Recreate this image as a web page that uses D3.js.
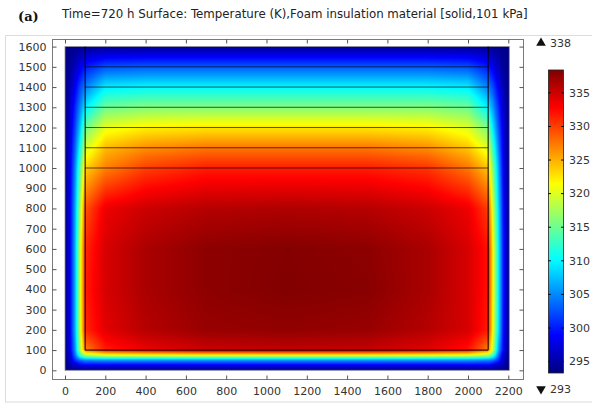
<!DOCTYPE html>
<html lang="en">
<head>
<meta charset="UTF-8">
<title>Temperature surface</title>
<style>
  body { margin: 0; background: #fff; }
  svg text { font-family: "DejaVu Sans", sans-serif; fill: #333; }
</style>
</head>
<body>
<svg id="container" width="592" height="405"></svg>

<script src="https://cdn.jsdelivr.net/npm/d3@7/dist/d3.min.js"></script>
<script>

// mesh nodes (mm) and temperatures (K), rows go bottom -> top
const xNodes = [0, 25, 50, 75, 100, 200, 400, 700, 1100, 1500, 1800, 2000, 2100, 2125, 2150, 2175, 2205]
const yNodes = [0, 25, 50, 75, 100, 200, 400, 600, 800, 1000, 1100, 1200, 1300, 1400, 1500, 1600]
const tempGrid = [
    [293.3, 293.5, 293.5, 293.5, 293.5, 293.5, 293.5, 293.5, 293.5, 293.5, 293.5, 293.5, 293.5, 293.5, 293.5, 293.5, 293.3],
    [293.3, 295.5, 296.5, 297.5, 298.5, 298.5, 298.5, 298.5, 298.5, 298.5, 298.5, 298.5, 298.5, 297.5, 296.5, 295.5, 293.3],
    [293.3, 296.5, 301, 304, 305, 305.5, 305.5, 305.5, 305.5, 305.5, 305.5, 305.5, 305, 304, 301, 296.5, 293.3],
    [293.3, 297, 304, 313, 318, 320.5, 321, 321.5, 321.5, 321.5, 321, 320.5, 318, 313, 304, 297, 293.3],
    [293.3, 298, 305.5, 318, 327, 331.5, 333.5, 335, 335.5, 335.3, 334, 332, 327, 318.5, 306.5, 299, 293.3],
    [293.3, 298.5, 307, 320, 331, 334, 336, 337.3, 337.6, 337.3, 336, 334.5, 331.5, 320.5, 309.5, 299.5, 293.3],
    [293.3, 298.5, 307, 320, 331.5, 334.5, 336.5, 337.8, 338.3, 338, 336.5, 334.5, 332, 321, 310, 300, 293.3],
    [293.3, 298.5, 307, 320, 331, 334.5, 336.5, 337.8, 338.2, 337.8, 336.5, 334.5, 332, 321, 310, 300, 293.3],
    [293.3, 298.5, 306.5, 318, 329, 333.5, 335, 336, 336.3, 336, 335, 333.5, 330, 319, 309, 299.5, 293.3],
    [293.3, 298, 305, 314.5, 323.5, 327, 330, 331.5, 331.5, 331.5, 330.5, 327.5, 324, 315.5, 307, 298.5, 293.3],
    [293.3, 297.5, 303.5, 311, 319.5, 324.5, 326.5, 327.5, 327.5, 327.5, 326.5, 324, 320, 312.5, 305, 298, 293.3],
    [293.3, 297, 302, 308, 315, 320.5, 322, 322.5, 322.5, 322.5, 322, 320, 315.5, 309, 303, 297.5, 293.3],
    [293.3, 296.5, 300.5, 305, 309.5, 315, 316, 316, 316, 316, 316, 315, 309.5, 305.5, 301, 296.5, 293.3],
    [293.3, 295.5, 298.5, 302, 304.5, 309.5, 310, 310, 310, 310, 310, 309.5, 304.5, 302, 298.5, 295.5, 293.3],
    [293.3, 294.5, 296, 298, 300, 302.5, 303, 303, 303, 303, 303, 302.5, 300, 298, 296, 294.5, 293.3],
    [293.3, 293.8, 294, 294, 294.2, 294.3, 294.3, 294.3, 294.3, 294.3, 294.3, 294.3, 294.2, 294, 294, 293.8, 293.3]
]

// geometry lines: inner box and layer boundaries
const innerBox = [100, 2100, 100, 1600]
const layerLines = [1000, 1100, 1200, 1300, 1400, 1500]

const xTicks = d3.range(0, 2201, 200)
const yTicks = d3.range(0, 1601, 100)
const cbTicks = [295, 300, 305, 310, 315, 320, 325, 330, 335]
const tMin = 293.3, tMax = 338.4
const domainW = 2205, domainH = 1600

const titleText = "Time=720 h Surface: Temperature (K),Foam insulation material [solid,101 kPa]"

let svg = d3.select("#container")

let x = d3.scaleLinear().domain([0, 2200]).range([65, 508.3])
let y = d3.scaleLinear().domain([0, 1600]).range([370.3, 46.6])

// jet-like rainbow
let jet = [[0, "#000080"], [0.125, "#0000ff"], [0.375, "#00ffff"], [0.625, "#ffff00"], [0.875, "#ff0000"], [1, "#800000"]]
let color = d3.scaleLinear()
    .domain(jet.map(d => tMin + d[0] * (tMax - tMin)))
    .range(jet.map(d => d[1]))
    .clamp(true)

function sampleT(xv, yv) {
    let i = Math.max(0, Math.min(d3.bisectRight(xNodes, xv) - 1, xNodes.length - 2))
    let j = Math.max(0, Math.min(d3.bisectRight(yNodes, yv) - 1, yNodes.length - 2))
    let tx = (xv - xNodes[i]) / (xNodes[i + 1] - xNodes[i])
    let ty = (yv - yNodes[j]) / (yNodes[j + 1] - yNodes[j])
    tx = Math.max(0, Math.min(1, tx)); ty = Math.max(0, Math.min(1, ty))
    let a = tempGrid[j][i], b = tempGrid[j][i + 1]
    let c = tempGrid[j + 1][i], d = tempGrid[j + 1][i + 1]
    return (a * (1 - tx) + b * tx) * (1 - ty) + (c * (1 - tx) + d * tx) * ty
}

// outer light panel
svg.append("rect")
    .attr("x", 5.5).attr("y", 35.5).attr("width", 620).attr("height", 366.5)
    .attr("fill", "none").attr("stroke", "#dcdcdc")

// titles
svg.append("text")
    .attr("x", 18).attr("y", 21)
    .style("font-family", "'DejaVu Serif', serif").style("font-weight", "bold")
    .style("font-size", "13px").style("fill", "#111")
    .text("(a)")

svg.append("text")
    .attr("x", 62).attr("y", 18)
    .style("font-size", "11.8px").style("fill", "#222")
    .text(titleText)

// surface image
let px0 = x(0), px1 = x(domainW), pyTop = y(domainH), pyBot = y(0)
let W = Math.round(px1 - px0), H = Math.round(pyBot - pyTop)
let canvas = document.createElement("canvas")
canvas.width = W; canvas.height = H
let ctx = canvas.getContext("2d")
let img = ctx.createImageData(W, H)
for (let r = 0; r < H; r++) {
    let yv = y.invert(pyTop + (r + 0.5) * (pyBot - pyTop) / H)
    for (let c = 0; c < W; c++) {
        let xv = x.invert(px0 + (c + 0.5) * (px1 - px0) / W)
        let col = d3.rgb(color(sampleT(xv, yv)))
        let k = (r * W + c) * 4
        img.data[k] = col.r; img.data[k + 1] = col.g; img.data[k + 2] = col.b; img.data[k + 3] = 255
    }
}
ctx.putImageData(img, 0, 0)

svg.append("image")
    .attr("x", px0).attr("y", pyTop).attr("width", px1 - px0).attr("height", pyBot - pyTop)
    .attr("preserveAspectRatio", "none")
    .attr("href", canvas.toDataURL())

svg.append("rect")
    .attr("x", px0).attr("y", pyTop).attr("width", px1 - px0).attr("height", pyBot - pyTop)
    .attr("fill", "none").attr("stroke", "#8c8c9c").attr("stroke-width", 0.8)

// layer lines
svg.selectAll("line.layer")
    .data(layerLines)
    .enter().append("line")
    .attr("class", "layer")
    .attr("x1", x(innerBox[0])).attr("x2", x(innerBox[1]))
    .attr("y1", d => y(d)).attr("y2", d => y(d))
    .attr("stroke", "#000").attr("stroke-opacity", 0.65).attr("stroke-width", 1)

svg.append("path")
    .attr("d", d3.line()([[x(innerBox[0]), y(innerBox[3])], [x(innerBox[0]), y(innerBox[2])],
        [x(innerBox[1]), y(innerBox[2])], [x(innerBox[1]), y(innerBox[3])]]))
    .attr("fill", "none").attr("stroke", "#000").attr("stroke-width", 1)

// axes frame
let fx0 = 52, fx1 = 523, fy0 = 39, fy1 = 379
svg.append("rect")
    .attr("x", fx0 + 0.5).attr("y", fy0 + 0.5).attr("width", fx1 - fx0).attr("height", fy1 - fy0)
    .attr("fill", "none").attr("stroke", "#7a7a7a")

function styleAxis(g) {
    g.select(".domain").remove()
    g.selectAll(".tick line").attr("stroke", "#555")
    g.selectAll(".tick text").style("font-size", "11px").style("fill", "#333")
        .style("font-family", "'DejaVu Sans', sans-serif")
}

let plain = d3.format("d")

svg.append("g")
    .attr("transform", `translate(${fx0 + 0.5},0)`)
    .call(d3.axisLeft(y).tickValues(yTicks).tickSize(-4).tickPadding(6).tickFormat(plain))
    .call(styleAxis)

svg.append("g")
    .attr("transform", `translate(0,${fy1 + 0.5})`)
    .call(d3.axisBottom(x).tickValues(xTicks).tickSize(-4).tickPadding(8).tickFormat(plain))
    .call(styleAxis)

svg.append("g")
    .attr("transform", `translate(0,${fy0 + 0.5})`)
    .call(d3.axisTop(x).tickValues(xTicks).tickSize(-4).tickFormat(""))
    .call(styleAxis)

svg.append("g")
    .attr("transform", `translate(${fx1 + 0.5},0)`)
    .call(d3.axisRight(y).tickValues(yTicks).tickSize(-4).tickFormat(""))
    .call(styleAxis)

// color bar
let cb = d3.scaleLinear().domain([tMin, tMax]).range([373, 70])
let cbX = 548, cbW = 15

let grad = svg.append("defs").append("linearGradient")
    .attr("id", "cbGrad").attr("x1", 0).attr("y1", 1).attr("x2", 0).attr("y2", 0)
grad.selectAll("stop")
    .data(d3.range(0, 1.0001, 0.025))
    .enter().append("stop")
    .attr("offset", d => d)
    .attr("stop-color", d => color(tMin + d * (tMax - tMin)))

svg.append("rect")
    .attr("x", cbX + 0.5).attr("y", cb(tMax)).attr("width", cbW).attr("height", cb(tMin) - cb(tMax))
    .attr("fill", "url(#cbGrad)").attr("stroke", "#222").attr("stroke-width", 0.8)

let cbTick = svg.selectAll("g.cbtick")
    .data(cbTicks)
    .enter().append("g")
    .attr("class", "cbtick")
    .attr("transform", d => `translate(0,${cb(d)})`)
cbTick.append("line").attr("x1", cbX).attr("x2", cbX + 3).attr("stroke", "#111")
cbTick.append("line").attr("x1", cbX + cbW - 2).attr("x2", cbX + cbW + 1).attr("stroke", "#111")
cbTick.append("text")
    .attr("x", 569).attr("dy", "0.35em")
    .style("font-size", "11px")
    .text(d => d)

// max / min markers
svg.append("path")
    .attr("d", d3.symbol(d3.symbolTriangle, 40)())
    .attr("transform", "translate(541,43)").attr("fill", "#111")
svg.append("text").attr("x", 550).attr("y", 43).attr("dy", "0.35em")
    .style("font-size", "11px").text(Math.round(tMax))

svg.append("path")
    .attr("d", d3.symbol(d3.symbolTriangle, 40)())
    .attr("transform", "translate(541,389) rotate(180)").attr("fill", "#111")
svg.append("text").attr("x", 550).attr("y", 389).attr("dy", "0.35em")
    .style("font-size", "11px").text(Math.round(tMin))

</script>
</body>
</html>
